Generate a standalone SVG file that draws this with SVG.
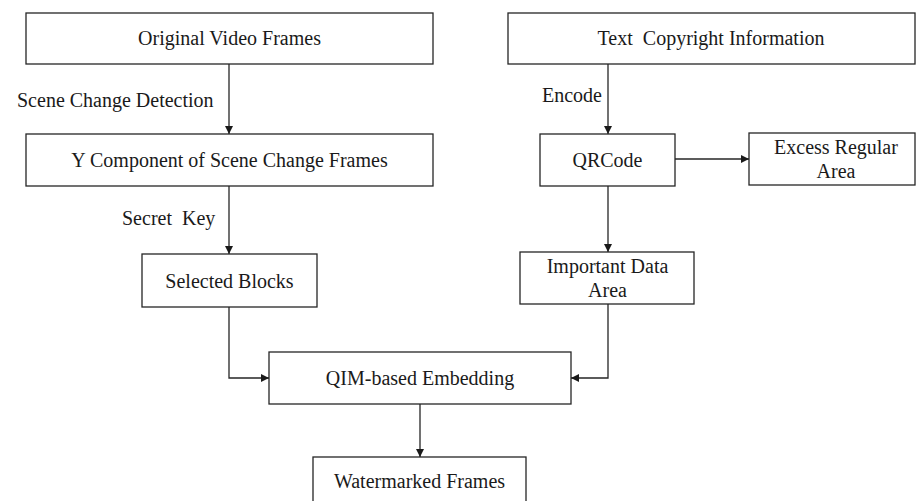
<svg xmlns="http://www.w3.org/2000/svg" width="916" height="501" viewBox="0 0 916 501">
<defs>
<marker id="ah" viewBox="0 0 10 10" refX="10" refY="5" markerWidth="8" markerHeight="8" markerUnits="userSpaceOnUse" orient="auto">
<path d="M0,0 L10,5 L0,10 z" fill="#1a1a1a"/>
</marker>
</defs>
<style>
.box{fill:#fff;stroke:#262626;stroke-width:1.3}
.t{font-family:"Liberation Serif","Times New Roman",serif;font-size:20px;fill:#1a1a1a;text-anchor:middle}
.lbl{font-family:"Liberation Serif","Times New Roman",serif;font-size:20px;fill:#1a1a1a}
.c{fill:none;stroke:#262626;stroke-width:1.3;marker-end:url(#ah)}
</style>
<rect width="916" height="501" fill="#fff"/>
<g id="connectors">
<path class="c" d="M229,64 V134"/>
<path class="c" d="M229,186 V254"/>
<path class="c" d="M229,307 V378 H269"/>
<path class="c" d="M608,64 V134"/>
<path class="c" d="M675,159 H749"/>
<path class="c" d="M608,186 V252"/>
<path class="c" d="M608,304 V378 H571"/>
<path class="c" d="M420,404 V457"/>
</g>
<g id="labels">
<text class="lbl" x="17" y="107">Scene Change Detection</text>
<text class="lbl" x="542" y="102">Encode</text>
<text class="lbl" x="122" y="225" xml:space="preserve">Secret  Key</text>
</g>
<g id="original">
<rect class="box" x="26" y="13" width="407" height="51"/>
<text class="t" x="229.5" y="45">Original Video Frames</text>
</g>
<g id="ycomp">
<rect class="box" x="26" y="134" width="407" height="52"/>
<text class="t" x="229.5" y="167">Y Component of Scene Change Frames</text>
</g>
<g id="text-copyright">
<rect class="box" x="508" y="13" width="407" height="51"/>
<text class="t" x="711" y="45" xml:space="preserve">Text  Copyright Information</text>
</g>
<g id="qrcode">
<rect class="box" x="540" y="134" width="135" height="52"/>
<text class="t" x="607.5" y="167">QRCode</text>
</g>
<g id="excess">
<rect class="box" x="749" y="133" width="166" height="52"/>
<text class="t" x="836" y="154">Excess Regular</text>
<text class="t" x="836" y="178">Area</text>
</g>
<g id="selected">
<rect class="box" x="142" y="254" width="175" height="53"/>
<text class="t" x="229.5" y="288">Selected Blocks</text>
</g>
<g id="important">
<rect class="box" x="520" y="252" width="174" height="52"/>
<text class="t" x="607.5" y="273">Important Data</text>
<text class="t" x="607.5" y="297">Area</text>
</g>
<g id="qim">
<rect class="box" x="269" y="352" width="302" height="52"/>
<text class="t" x="420" y="385">QIM-based Embedding</text>
</g>
<g id="watermarked">
<rect class="box" x="313" y="457" width="213" height="60"/>
<text class="t" x="419.5" y="488">Watermarked Frames</text>
</g>
</svg>
